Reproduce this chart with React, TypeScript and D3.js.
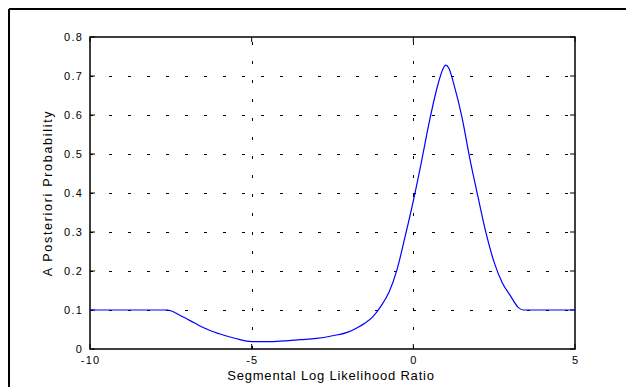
import React from "react";
import * as d3 from "d3";

const xValues = [-10, -7.6, -7.5, -7.25, -7.0, -6.75, -6.5, -6.25, -6.0, -5.5, -5.0, -4.5, -4.0, -3.5, -3.0, -2.5, -2.0, -1.75, -1.5, -1.25, -1.0, -0.75, -0.5, -0.25, 0, 0.25, 0.5, 0.75, 0.9, 1.0, 1.1, 1.25, 1.5, 1.75, 2.0, 2.25, 2.5, 2.75, 3.0, 3.25, 3.4, 5];
const yValues = [0.1, 0.1, 0.098, 0.088, 0.077, 0.066, 0.055, 0.046, 0.039, 0.027, 0.019, 0.019, 0.021, 0.024, 0.027, 0.034, 0.044, 0.054, 0.066, 0.083, 0.11, 0.146, 0.205, 0.29, 0.38, 0.48, 0.585, 0.675, 0.715, 0.728, 0.72, 0.68, 0.596, 0.487, 0.39, 0.297, 0.222, 0.17, 0.137, 0.106, 0.1, 0.1];
const xTicks = [-10, -5, 0, 5];
const yTicks = [0, 0.1, 0.2, 0.3, 0.4, 0.5, 0.6, 0.7, 0.8];
const xTitle = "Segmental Log Likelihood Ratio";
const yTitle = "A Posteriori Probability";

export default function App() {
  const left = 90, right = 575, top = 37, bottom = 349;
  const x = d3.scaleLinear().domain([-10, 5]).range([left, right]);
  const y = d3.scaleLinear().domain([0, 0.8]).range([bottom, top]);
  const pts: [number, number][] = xValues.map((v, i) => [v, yValues[i]]);
  const line = d3.line<[number, number]>().x(d => x(d[0])).y(d => y(d[1])).curve(d3.curveMonotoneX);
  const font = "'Liberation Sans', Arial, sans-serif";
  const tickLen = 5;
  return (
    <svg width={626} height={387} style={{ position: "absolute", left: 0, top: 0, background: "#fff" }}>
      <rect x={0} y={0} width={626} height={387} fill="#fff" />
      {/* outer frame */}
      <line x1={9} y1={9} x2={626} y2={9} stroke="#000" strokeWidth={2} />
      <line x1={9} y1={9} x2={9} y2={387} stroke="#000" strokeWidth={2} />
      {/* grid */}
      {yTicks.filter(t => t > 0 && t < 0.8).map(t => (
        <line key={"gy" + t} x1={left} x2={right} y1={Math.round(y(t)) + 0.5} y2={Math.round(y(t)) + 0.5}
          stroke="#000" strokeWidth={1} strokeDasharray="3,16" />
      ))}
      {xTicks.filter(t => t > -10 && t < 5).map(t => (
        <line key={"gx" + t} y1={bottom} y2={top} x1={Math.round(x(t)) + 0.5} x2={Math.round(x(t)) + 0.5}
          stroke="#000" strokeWidth={1} strokeDasharray="3,16" />
      ))}
      {/* ticks */}
      {yTicks.map(t => (
        <g key={"ty" + t}>
          <line x1={left} x2={left + tickLen} y1={y(t)} y2={y(t)} stroke="#000" strokeWidth={1} />
          <line x1={right} x2={right - tickLen} y1={y(t)} y2={y(t)} stroke="#000" strokeWidth={1} />
          <text x={83} y={y(t)} dy="0.35em" textAnchor="end" fontFamily={font} fontSize={11} letterSpacing={1.2} fill="#000">{t === 0 ? "0" : t.toFixed(1)}</text>
        </g>
      ))}
      {xTicks.map(t => (
        <g key={"tx" + t}>
          <line x1={x(t)} x2={x(t)} y1={bottom} y2={bottom - tickLen} stroke="#000" strokeWidth={1} />
          <line x1={x(t)} x2={x(t)} y1={top} y2={top + tickLen} stroke="#000" strokeWidth={1} />
          <text x={x(t) + 0.6} y={363.5} textAnchor="middle" fontFamily={font} fontSize={11} letterSpacing={1.2} fill="#000">{String(t)}</text>
        </g>
      ))}
      {/* box */}
      <rect x={left} y={top} width={right - left} height={bottom - top} fill="none" stroke="#000" strokeWidth={1.5} />
      {/* curve */}
      <path d={line(pts) || ""} fill="none" stroke="#0000ff" strokeWidth={1.2} />
      {/* titles */}
      <text x={331} y={379.5} textAnchor="middle" fontFamily={font} fontSize={13} letterSpacing={0.8} fill="#000">{xTitle}</text>
      <text transform={`translate(52,193) rotate(-90)`} textAnchor="middle" fontFamily={font} fontSize={12.5} letterSpacing={1.7} fill="#000">{yTitle}</text>
    </svg>
  );
}
